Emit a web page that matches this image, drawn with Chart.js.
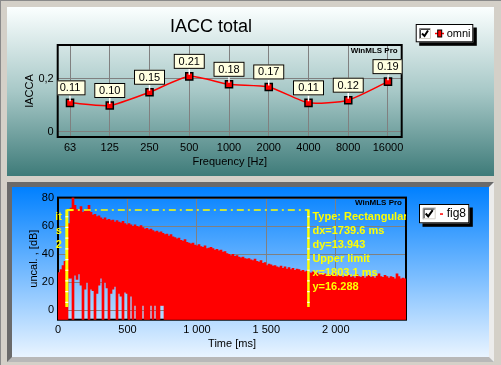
<!DOCTYPE html>
<html>
<head>
<meta charset="utf-8">
<script src="https://cdn.jsdelivr.net/npm/chart.js@4.4.1/dist/chart.umd.min.js"></script>
<style>
html,body{margin:0;padding:0;}
body{width:501px;height:365px;background:#d4d0c8;position:relative;overflow:hidden;}
#edge{position:absolute;left:0;top:0;width:500px;height:364px;border-left:1px solid #8a8a8a;border-top:1px solid #8a8a8a;}
#p1{position:absolute;left:7px;top:7px;width:487px;height:169px;background:linear-gradient(to bottom,#fbffff 0%,#a7c8c7 50%,#3e7b79 100%);}
#p2o{position:absolute;left:7px;top:182px;width:477px;height:170px;border:5px solid;border-color:#6a6a6a #ececec #b8b8b8 #6a6a6a;}
#p2{position:absolute;left:12px;top:187px;width:477px;height:170px;background:linear-gradient(to bottom,#0080ff 0%,#e9f4ff 100%);}
canvas{position:absolute;}
#c1{left:7px;top:7px;}
#c2{left:12px;top:187px;}
</style>
</head>
<body>
<div id="edge"></div>
<div id="p1"></div>
<div id="p2o"></div>
<div id="p2"></div>
<canvas id="c1" width="487" height="169"></canvas>
<canvas id="c2" width="477" height="170"></canvas>
<script>
// ---------- data: top chart ----------
const chartTitle = 'IACC total';
const freqLabels = ['63','125','250','500','1000','2000','4000','8000','16000'];
const iaccValues = [0.11,0.10,0.15,0.21,0.18,0.17,0.11,0.12,0.19];
const iaccTicks = [0, 0.2];
const topSeriesName = 'omni';

// ---------- data: bottom chart ----------
const bottomSeriesName = 'fig8';
const BIN_MS = 14.4;
const envelopeDb = [
 27,29,32,35,40,62,73,80.5,75,72,
 71,74,70,71,72,75,70,68,68.5,67,
 67.5,66,65,66,64.5,65,64,64.5,63,64,
 63,62.5,63.5,62,61,62,61,60,61,60,
 59.5,60.5,59,58,58.5,57.5,58,57,56,56.5,
 55.5,56,55,54,54.5,53,54,52.5,52,51,
 51.5,50,49.5,50.5,48.5,48,47.5,48,46.5,46,
 47,45.5,45,46,44,44.5,45,44,43,43.5,
 42.5,43,41.5,42,40.5,40,39,40,38.5,39,
 38,37.5,38,37,36.5,37,36,35.5,36.5,35,
 34.5,35.5,33.5,34,32,33,32.5,31.5,32,31,
 30.5,31.5,30,31,29.5,30.5,29,30,28.5,29.5,
 29,28,28.5,27.5,28,27,26.5,27.5,26,26.5,
 25.5,26.5,25,26,24.5,25.5,25,24.5,26,24,
 25,24.5,23.5,24.5,24,25,23.5,24,23,25.5,
 24,23.5,24.5,23,24,25,23.5,24,23,24.5,
 26,24,23.5,25,24,23,24,23.5,22.5,26,
 24,22.5,23,22.5
];
// lowest level reached inside each bin (null = down to the bottom of the plot)
const gapFloorDb = [
 null,null,null,null,null,23,23,null,25,22,
 26,18,null,15,20,null,15,14,null,12,
 18,23,null,20,16,null,12,15,17,null,
 12,10,null,13,12,null,10,null,3.5,null,
 null,null,3.5,null,null,null,3.5,null,3.5,null,
 null,3.5,3.5,null
];
const timeTicks = [0,500,1000,1500,2000];
const dbTicks = [0,20,40,60,80];
const cursorLowerMs = 63.5, cursorUpperMs = 1803.1;
const cursorLowDb = 2.345, cursorHighDb = 71.6;
const rightCursorText = ['Type: Rectangular','dx=1739.6 ms','dy=13.943','Upper limit','x=1803.1 ms','y=16.288'];
const leftCursorText = ['Lower limit','x=63.5 ms','y=2.3452'];

// ---------- common ----------
const FONT = "'Liberation Sans', Arial, sans-serif";
Chart.defaults.font.family = FONT;
Chart.defaults.font.size = 11;
Chart.defaults.color = '#000';
Chart.defaults.animation = false;

function drawFrame(chart){
  const {ctx, chartArea:a} = chart;
  ctx.save();
  ctx.strokeStyle = '#000'; ctx.lineWidth = 2;
  ctx.strokeRect(a.left, a.top, a.right - a.left, a.bottom - a.top);
  ctx.restore();
}
function drawWatermark(chart, dy){
  const {ctx, chartArea:a} = chart;
  ctx.save();
  ctx.font = 'bold 8px ' + FONT;
  ctx.fillStyle = '#000'; ctx.textAlign = 'right'; ctx.textBaseline = 'middle';
  ctx.fillText('WinMLS Pro', a.right - 4, a.top + dy);
  ctx.restore();
}
function drawCheckbox(ctx, x, y, w, h){
  ctx.save();
  ctx.fillStyle = '#fff'; ctx.fillRect(x, y, w, h);
  ctx.lineWidth = 1;
  ctx.strokeStyle = '#808080';
  ctx.beginPath(); ctx.moveTo(x+0.5, y+h); ctx.lineTo(x+0.5, y+0.5); ctx.lineTo(x+w, y+0.5); ctx.stroke();
  ctx.strokeStyle = '#404040';
  ctx.beginPath(); ctx.moveTo(x+1.5, y+h-1); ctx.lineTo(x+1.5, y+1.5); ctx.lineTo(x+w-1, y+1.5); ctx.stroke();
  ctx.strokeStyle = '#d4d0c8';
  ctx.beginPath(); ctx.moveTo(x+0.5, y+h-0.5); ctx.lineTo(x+w-0.5, y+h-0.5); ctx.lineTo(x+w-0.5, y); ctx.stroke();
  ctx.strokeStyle = '#000'; ctx.lineWidth = 2;
  ctx.beginPath(); ctx.moveTo(x+3, y+h/2); ctx.lineTo(x+5.5, y+h-3); ctx.lineTo(x+w-3, y+2.5); ctx.stroke();
  ctx.restore();
}
function drawLegendBox(ctx, x, y, w, h){
  ctx.save();
  ctx.fillStyle = '#000'; ctx.fillRect(x+3.5, y+3.5, w, h);
  ctx.fillStyle = '#fff'; ctx.fillRect(x, y, w, h);
  ctx.strokeStyle = '#000'; ctx.lineWidth = 1;
  ctx.strokeRect(x+0.5, y+0.5, w-1, h-1);
  ctx.restore();
}

// ---------- top chart ----------
const topPlugin = {
  id: 'topDeco',
  beforeDatasetsDraw(chart){ drawFrame(chart); drawWatermark(chart, 5.5); },
  afterDatasetsDraw(chart){
    const {ctx, chartArea:a} = chart;
    const meta = chart.getDatasetMeta(0);
    ctx.save();
    ctx.beginPath(); ctx.rect(a.left, a.top, a.right - a.left, a.bottom - a.top); ctx.clip();
    meta.data.forEach((pt, i) => {
      const w = 31, h = 15;
      const bx = pt.x - w/2, by = pt.y - 7.5 - h;
      ctx.strokeStyle = '#fff'; ctx.lineWidth = 1.5;
      ctx.beginPath(); ctx.moveTo(pt.x, by + h); ctx.lineTo(pt.x, pt.y - 1.5); ctx.stroke();
      ctx.fillStyle = '#ffffe1'; ctx.fillRect(bx, by, w, h);
      ctx.strokeStyle = '#000'; ctx.lineWidth = 1;
      ctx.strokeRect(bx + 0.5, by + 0.5, w - 1, h - 1);
      ctx.fillStyle = '#000'; ctx.font = '11px ' + FONT;
      ctx.textAlign = 'center'; ctx.textBaseline = 'middle';
      ctx.fillText(iaccValues[i].toFixed(2), pt.x, by + h/2 + 0.5);
    });
    ctx.restore();
  },
  afterDraw(chart){
    const ctx = chart.ctx;
    ctx.save();
    ctx.font = '18px ' + FONT; ctx.fillStyle = '#000';
    ctx.textAlign = 'center'; ctx.textBaseline = 'middle';
    ctx.fillText(chartTitle, 204, 20);
    // legend
    drawLegendBox(ctx, 408.7, 17, 57.6, 18.3);
    drawCheckbox(ctx, 412, 21, 12, 11);
    ctx.strokeStyle = '#ff0000'; ctx.lineWidth = 1.5;
    ctx.beginPath(); ctx.moveTo(428, 26.5); ctx.lineTo(437, 26.5); ctx.stroke();
    ctx.fillStyle = '#ff0000'; ctx.fillRect(430.7, 23, 4, 7);
    ctx.strokeStyle = '#000'; ctx.lineWidth = 1; ctx.strokeRect(430.7, 23, 4, 7);
    ctx.fillStyle = '#000'; ctx.font = '11px ' + FONT;
    ctx.textAlign = 'left'; ctx.textBaseline = 'middle';
    ctx.fillText(topSeriesName, 439.7, 26.5);
    ctx.restore();
  }
};

new Chart(document.getElementById('c1'), {
  type: 'line',
  data: {
    datasets: [{
      label: topSeriesName,
      data: iaccValues.map((v, i) => ({x: i, y: v})),
      borderColor: '#ff0000', borderWidth: 1.5, tension: 0.2,
      pointStyle: 'rect', pointRadius: 5,
      pointBackgroundColor: '#ff0000', pointBorderColor: '#000', pointBorderWidth: 1.5
    }]
  },
  options: {
    responsive: false,
    layout: {padding: {left: 0, top: 38, right: 92.3, bottom: 0}},
    plugins: {legend: {display: false}, title: {display: false}, tooltip: {enabled: false}},
    scales: {
      x: {
        type: 'linear', min: -0.31, max: 8.345,
        afterBuildTicks: s => { s.ticks = freqLabels.map((_, i) => ({value: i})); },
        afterFit: s => { s.height = 39; },
        ticks: {autoSkip: false, padding: 4, maxRotation: 0, callback: v => freqLabels[v], font: {size: 11}},
        grid: {color: '#808080', lineWidth: 1, drawTicks: false},
        border: {display: false},
        title: {display: true, text: 'Frequency [Hz]', font: {size: 11}, padding: {top: 0, bottom: 7.1}}
      },
      y: {
        type: 'linear', min: -0.0189, max: 0.3283,
        afterBuildTicks: s => { s.ticks = iaccTicks.map(v => ({value: v})); },
        afterFit: s => { s.width = 50.7; },
        ticks: {padding: 4, callback: v => v === 0 ? '0' : v.toFixed(1).replace('.', ','), font: {size: 11}},
        grid: {color: '#808080', lineWidth: 1, drawTicks: false},
        border: {display: false},
        title: {display: true, text: 'IACCA', font: {size: 11}, padding: {top: 16.4, bottom: 0}}
      }
    }
  },
  plugins: [topPlugin]
});

// ---------- bottom chart ----------
const bottomPlugin = {
  id: 'bottomDeco',
  beforeDatasetsDraw(chart){ drawFrame(chart); drawWatermark(chart, 4.7); },
  afterDatasetsDraw(chart){
    const {ctx, chartArea:a, scales:{x, y}} = chart;
    const lx = x.getPixelForValue(cursorLowerMs), rx = x.getPixelForValue(cursorUpperMs);
    const ty = y.getPixelForValue(cursorHighDb), byy = y.getPixelForValue(cursorLowDb);
    ctx.save();
    ctx.beginPath(); ctx.rect(a.left - 2, a.top, a.right - a.left + 2, a.bottom - a.top); ctx.clip();
    // dash-dot level line
    ctx.strokeStyle = '#ffff00'; ctx.lineWidth = 1.5;
    ctx.setLineDash([7, 4, 2, 4]);
    ctx.beginPath(); ctx.moveTo(lx, ty); ctx.lineTo(rx, ty); ctx.stroke();
    ctx.setLineDash([]);
    // cursors
    [[lx, 3], [rx, 2.5]].forEach(([cx, w]) => {
      ctx.strokeStyle = '#ffff00'; ctx.lineWidth = w;
      ctx.beginPath(); ctx.moveTo(cx, ty - 0.5); ctx.lineTo(cx, byy); ctx.stroke();
      ctx.strokeStyle = '#ffffff'; ctx.setLineDash([1.2, 9.5]);
      ctx.beginPath(); ctx.moveTo(cx, byy - 4); ctx.lineTo(cx, ty + 4); ctx.stroke();
      ctx.setLineDash([]);
    });
    ctx.fillStyle = '#ffff00'; ctx.fillRect(lx, ty - 1, 6, 2);
    // cursor texts
    ctx.font = 'bold 11px ' + FONT; ctx.fillStyle = '#ffff00'; ctx.textBaseline = 'middle';
    ctx.textAlign = 'left';
    rightCursorText.forEach((t, i) => ctx.fillText(t, rx + 4, ty + 7.3 + i * 13.9));
    ctx.textAlign = 'right';
    leftCursorText.forEach((t, i) => ctx.fillText(t, lx - 5, ty + 7.3 + i * 13.9));
    ctx.restore();
  },
  afterDraw(chart){
    const ctx = chart.ctx;
    ctx.save();
    drawLegendBox(ctx, 407, 17, 50.3, 19.3);
    drawCheckbox(ctx, 410.7, 20.7, 13, 11.6);
    ctx.fillStyle = '#ff0000'; ctx.fillRect(428, 26.3, 3, 1.5);
    ctx.fillStyle = '#000'; ctx.font = '12px ' + FONT;
    ctx.textAlign = 'left'; ctx.textBaseline = 'middle';
    ctx.fillText(bottomSeriesName, 434.7, 27);
    ctx.restore();
  }
};

const Y_MIN = -6.75, Y_MAX = 80.5;
new Chart(document.getElementById('c2'), {
  type: 'bar',
  data: {
    datasets: [{
      label: bottomSeriesName,
      data: envelopeDb.map((h, i) => ({
        x: i * BIN_MS + BIN_MS / 2,
        y: [gapFloorDb[i] == null ? Y_MIN - 1 : gapFloorDb[i], h]
      })),
      backgroundColor: '#ff0000', borderWidth: 0,
      barPercentage: 1, categoryPercentage: 1, grouped: false
    }]
  },
  options: {
    responsive: false,
    layout: {padding: {left: 0, top: 7.3, right: 83, bottom: 0}},
    plugins: {legend: {display: false}, title: {display: false}, tooltip: {enabled: false}},
    scales: {
      x: {
        type: 'linear', min: 0, max: envelopeDb.length * BIN_MS, offset: false,
        afterBuildTicks: s => { s.ticks = timeTicks.map(v => ({value: v})); },
        afterFit: s => { s.height = 37.3; },
        ticks: {autoSkip: false, padding: 4, maxRotation: 0, font: {size: 11},
          callback: v => v >= 1000 ? Math.floor(v / 1000) + ' ' + String(v % 1000).padStart(3, '0') : String(v)},
        grid: {color: '#808080', lineWidth: 1, drawTicks: false, offset: false},
        border: {display: false},
        title: {display: true, text: 'Time [ms]', font: {size: 11}, padding: {top: 0, bottom: 6.4}}
      },
      y: {
        type: 'linear', min: Y_MIN, max: Y_MAX,
        afterBuildTicks: s => { s.ticks = dbTicks.map(v => ({value: v})); },
        afterFit: s => { s.width = 46; },
        ticks: {padding: 4, font: {size: 11}},
        grid: {color: '#808080', lineWidth: 1, drawTicks: false},
        border: {display: false},
        title: {display: true, text: 'uncal. , [dB]', font: {size: 11}, padding: {top: 15.1, bottom: 0}}
      }
    }
  },
  plugins: [bottomPlugin]
});
</script>
</body>
</html>
